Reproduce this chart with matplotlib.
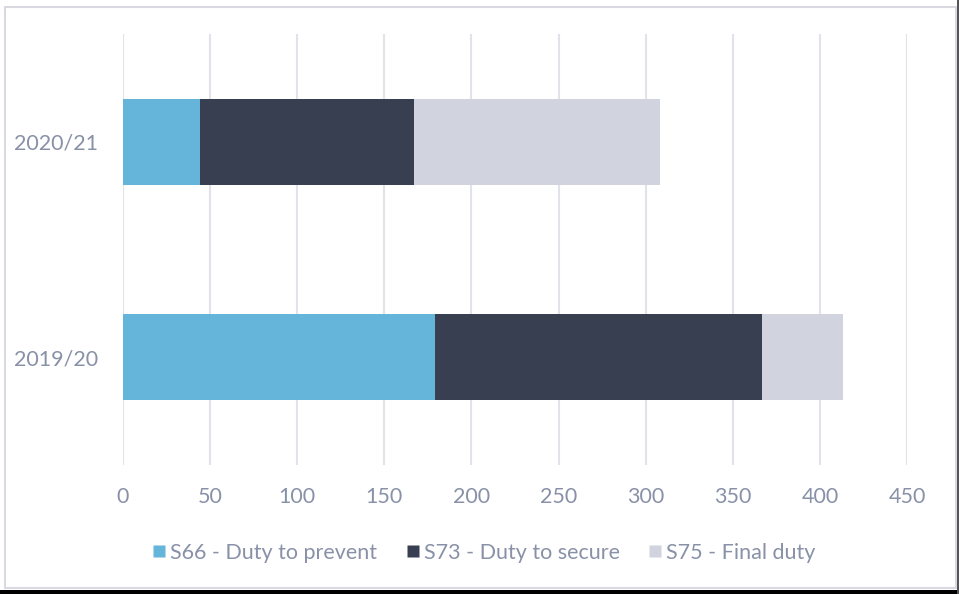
import matplotlib
matplotlib.use("Agg")
import matplotlib.pyplot as plt
from matplotlib.patches import Rectangle
from matplotlib.lines import Line2D
import numpy as np

years = ["2019/20", "2020/21"]
series_names = ["S66 - Duty to prevent", "S73 - Duty to secure", "S75 - Final duty"]
s66 = [179, 44]
s73 = [188, 123]
s75 = [46, 141]
colors = ["#64b5d9", "#373f51", "#d1d3df"]
xticks = [0, 50, 100, 150, 200, 250, 300, 350, 400, 450]

W, H = 959, 594
text_color = "#8891a7"
plt.rcParams["font.family"] = ["Lato", "DejaVu Sans"]

fig = plt.figure(figsize=(W / 100, H / 100), dpi=100)
fig.patch.set_facecolor("white")

# outer frame
fig.patches.append(Rectangle((5 / W, 1 - 588 / H), 951 / W, 581 / H, transform=fig.transFigure,
                             fill=False, edgecolor="#d8d9e1", linewidth=1.5))
fig.patches.append(Rectangle((0, 0), 1, 4 / H, transform=fig.transFigure,
                             facecolor="black", edgecolor="none"))
fig.patches.append(Rectangle((957 / W, 0), 2 / W, 1, transform=fig.transFigure,
                             facecolor="#555555", edgecolor="none"))

ax = fig.add_axes([123 / W, 1 - 465 / H, (907 - 123) / W, (465 - 34) / H])
y = np.arange(len(years))
left = np.zeros(len(years))
for vals, c in zip([s66, s73, s75], colors):
    ax.barh(y, vals, left=left, height=0.4, color=c, edgecolor="none", zorder=3)
    left += np.array(vals)

ax.set_xlim(0, 450)
ax.set_ylim(-0.5, 1.5)
ax.set_xticks(xticks)
ax.set_yticks(y)
ax.set_yticklabels(years)
ax.grid(axis="x", color="#e2e3ea", linewidth=1.5, zorder=0)
ax.grid(axis="y", visible=False)
for s in ax.spines.values():
    s.set_visible(False)
ax.tick_params(axis="both", length=0, labelsize=15.5, labelcolor=text_color)
ax.tick_params(axis="x", pad=16)
ax.tick_params(axis="y", pad=18)

handles = [Line2D([], [], marker="s", linestyle="none", markersize=9, markerfacecolor=c,
                  markeredgecolor="none") for c in colors]
fig.legend(handles, series_names, loc="center", bbox_to_anchor=(483 / W, 1 - 553 / H), ncol=3,
           frameon=False, fontsize=15.5, labelcolor=text_color, handletextpad=0.1,
           columnspacing=1.25, handlelength=0.8)

fig.savefig("out.png", dpi=100, facecolor="white")
